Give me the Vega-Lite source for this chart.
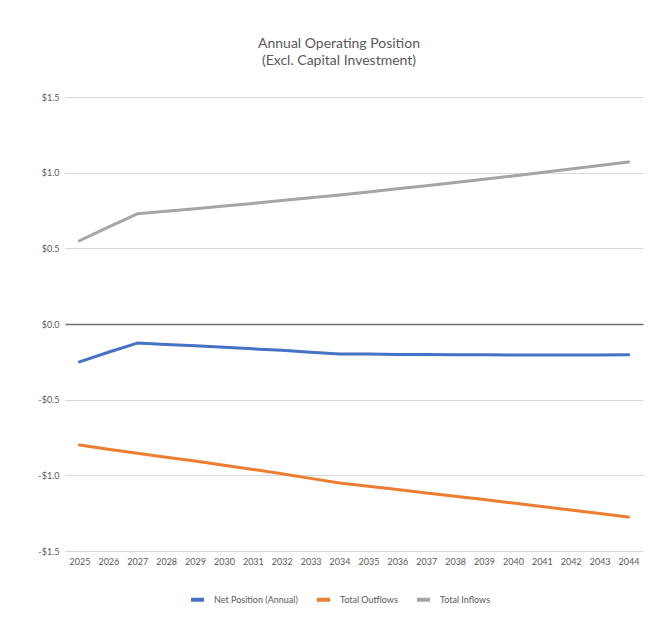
{
  "$schema": "https://vega.github.io/schema/vega-lite/v6.json",
  "width": 578,
  "height": 454,
  "autosize": {"type": "none"},
  "padding": {"left": 65, "top": 97, "right": 18, "bottom": 83},
  "background": "white",
  "title": {
    "text": ["Annual Operating Position", "(Excl. Capital Investment)"],
    "font": "Lato",
    "fontSize": 14,
    "fontWeight": "normal",
    "color": "#595959",
    "lineHeight": 17,
    "offset": 25,
    "dx": -15,
    "anchor": "middle"
  },
  "data": {
    "values": [
      {"year": "2025", "series": "Net Position (Annual)", "value": -0.25},
      {"year": "2026", "series": "Net Position (Annual)", "value": -0.187},
      {"year": "2027", "series": "Net Position (Annual)", "value": -0.126},
      {"year": "2028", "series": "Net Position (Annual)", "value": -0.135},
      {"year": "2029", "series": "Net Position (Annual)", "value": -0.144},
      {"year": "2030", "series": "Net Position (Annual)", "value": -0.154},
      {"year": "2031", "series": "Net Position (Annual)", "value": -0.164},
      {"year": "2032", "series": "Net Position (Annual)", "value": -0.174},
      {"year": "2033", "series": "Net Position (Annual)", "value": -0.186},
      {"year": "2034", "series": "Net Position (Annual)", "value": -0.198},
      {"year": "2035", "series": "Net Position (Annual)", "value": -0.199},
      {"year": "2036", "series": "Net Position (Annual)", "value": -0.201},
      {"year": "2037", "series": "Net Position (Annual)", "value": -0.202},
      {"year": "2038", "series": "Net Position (Annual)", "value": -0.203},
      {"year": "2039", "series": "Net Position (Annual)", "value": -0.204},
      {"year": "2040", "series": "Net Position (Annual)", "value": -0.205},
      {"year": "2041", "series": "Net Position (Annual)", "value": -0.205},
      {"year": "2042", "series": "Net Position (Annual)", "value": -0.205},
      {"year": "2043", "series": "Net Position (Annual)", "value": -0.205},
      {"year": "2044", "series": "Net Position (Annual)", "value": -0.204},
      {"year": "2025", "series": "Total Outflows", "value": -0.8},
      {"year": "2026", "series": "Total Outflows", "value": -0.827},
      {"year": "2027", "series": "Total Outflows", "value": -0.854},
      {"year": "2028", "series": "Total Outflows", "value": -0.88},
      {"year": "2029", "series": "Total Outflows", "value": -0.906},
      {"year": "2030", "series": "Total Outflows", "value": -0.933},
      {"year": "2031", "series": "Total Outflows", "value": -0.961},
      {"year": "2032", "series": "Total Outflows", "value": -0.99},
      {"year": "2033", "series": "Total Outflows", "value": -1.02},
      {"year": "2034", "series": "Total Outflows", "value": -1.051},
      {"year": "2035", "series": "Total Outflows", "value": -1.072},
      {"year": "2036", "series": "Total Outflows", "value": -1.094},
      {"year": "2037", "series": "Total Outflows", "value": -1.116},
      {"year": "2038", "series": "Total Outflows", "value": -1.138},
      {"year": "2039", "series": "Total Outflows", "value": -1.16},
      {"year": "2040", "series": "Total Outflows", "value": -1.183},
      {"year": "2041", "series": "Total Outflows", "value": -1.206},
      {"year": "2042", "series": "Total Outflows", "value": -1.229},
      {"year": "2043", "series": "Total Outflows", "value": -1.252},
      {"year": "2044", "series": "Total Outflows", "value": -1.275},
      {"year": "2025", "series": "Total Inflows", "value": 0.55},
      {"year": "2026", "series": "Total Inflows", "value": 0.64},
      {"year": "2027", "series": "Total Inflows", "value": 0.728},
      {"year": "2028", "series": "Total Inflows", "value": 0.745},
      {"year": "2029", "series": "Total Inflows", "value": 0.762},
      {"year": "2030", "series": "Total Inflows", "value": 0.779},
      {"year": "2031", "series": "Total Inflows", "value": 0.797},
      {"year": "2032", "series": "Total Inflows", "value": 0.816},
      {"year": "2033", "series": "Total Inflows", "value": 0.834},
      {"year": "2034", "series": "Total Inflows", "value": 0.853},
      {"year": "2035", "series": "Total Inflows", "value": 0.873},
      {"year": "2036", "series": "Total Inflows", "value": 0.893},
      {"year": "2037", "series": "Total Inflows", "value": 0.914},
      {"year": "2038", "series": "Total Inflows", "value": 0.935},
      {"year": "2039", "series": "Total Inflows", "value": 0.956},
      {"year": "2040", "series": "Total Inflows", "value": 0.978},
      {"year": "2041", "series": "Total Inflows", "value": 1.001},
      {"year": "2042", "series": "Total Inflows", "value": 1.024},
      {"year": "2043", "series": "Total Inflows", "value": 1.047},
      {"year": "2044", "series": "Total Inflows", "value": 1.071}
    ]
  },
  "config": {
    "view": {"stroke": null},
    "font": "Lato",
    "axis": {
      "labelFont": "Lato",
      "labelColor": "#595959",
      "labelFontSize": 9,
      "ticks": false,
      "domain": false,
      "title": null
    }
  },
  "mark": {"type": "line", "strokeWidth": 3, "strokeCap": "round", "strokeJoin": "round"},
  "encoding": {
    "x": {
      "field": "year",
      "type": "ordinal",
      "scale": {"type": "point", "padding": 0.5},
      "axis": {"labelAngle": 0, "grid": false, "labelPadding": 6}
    },
    "y": {
      "field": "value",
      "type": "quantitative",
      "scale": {"domain": [-1.5, 1.5], "nice": false, "zero": false},
      "axis": {
        "values": [-1.5, -1, -0.5, 0, 0.5, 1, 1.5],
        "labelExpr": "datum.value < 0 ? '-$' + format(-datum.value, '.1f') : '$' + format(datum.value, '.1f')",
        "labelPadding": 6,
        "grid": true,
        "gridColor": {"condition": {"test": "datum.value === 0", "value": "#6f6f6f"}, "value": "#d9d9d9"},
        "gridWidth": {"condition": {"test": "datum.value === 0", "value": 1.3}, "value": 1}
      }
    },
    "color": {
      "field": "series",
      "type": "nominal",
      "scale": {
        "domain": ["Net Position (Annual)", "Total Outflows", "Total Inflows"],
        "range": ["#4472C4", "#ED7D31", "#A5A5A5"]
      },
      "legend": {
        "title": null,
        "orient": "none",
        "direction": "horizontal",
        "legendX": 124,
        "legendY": 494,
        "symbolType": "stroke",
        "symbolStrokeWidth": 4,
        "symbolSize": 169,
        "labelFont": "Lato",
        "labelFontSize": 9,
        "labelColor": "#595959",
        "labelOffset": 8,
        "columnPadding": 11
      }
    }
  }
}
